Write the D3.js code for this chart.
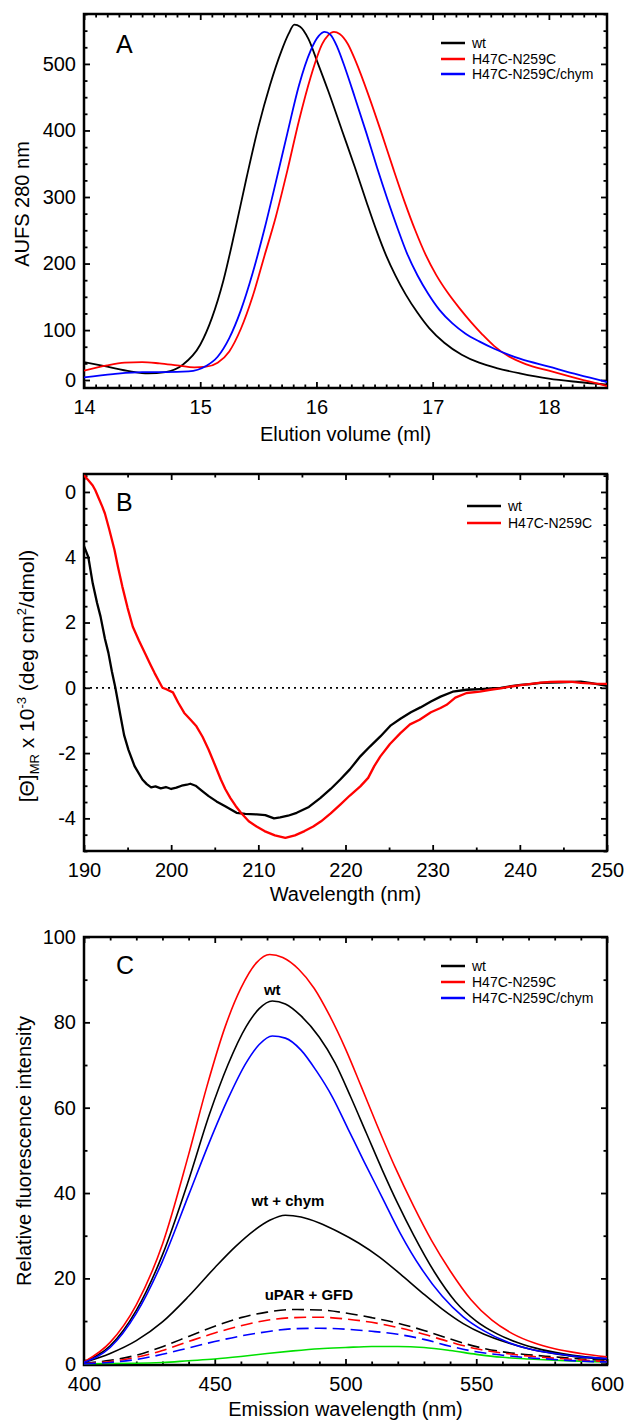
<!DOCTYPE html>
<html><head><meta charset="utf-8">
<script src="https://cdn.jsdelivr.net/npm/d3@7"></script>
<style>
body{margin:0;background:#fff}
svg{display:block}
text{font-family:"Liberation Sans",Arial,Helvetica,sans-serif;fill:#000}
</style>
</head><body>
<svg id="chart" width="625" height="1420"></svg>
<script>
// ---------------- Panel A data (elution volume ml, AUFS 280 nm) ----------------
const seriesA = ["wt", "H47C-N259C", "H47C-N259C/chym"];
const colorsA = ["#000000", "#ff0000", "#0000ff"];
const aWt = [[14.0,52],[14.2,45],[14.4,38],[14.55,35],[14.7,37],[14.85,48],[15.0,78],[15.1,118],[15.2,175],[15.3,250],[15.4,330],[15.5,405],[15.6,468],[15.7,520],[15.76,545],[15.81,559],[15.86,556],[15.93,538],[16.01,502],[16.1,460],[16.22,400],[16.33,345],[16.43,293],[16.52,248],[16.6,212],[16.68,182],[16.77,153],[16.87,126],[16.97,103],[17.1,81],[17.25,63],[17.4,51],[17.55,43],[17.75,35],[18.0,27],[18.25,22],[18.5,18]];
const aMut = [[14.0,39],[14.2,47],[14.35,51],[14.5,52],[14.65,50],[14.8,47],[14.95,44],[15.05,45],[15.15,51],[15.25,68],[15.35,102],[15.45,150],[15.55,210],[15.65,270],[15.75,340],[15.85,415],[15.95,480],[16.05,530],[16.1,543],[16.15,548],[16.2,545],[16.27,530],[16.34,503],[16.45,452],[16.56,396],[16.66,343],[16.76,292],[16.85,250],[16.94,213],[17.03,183],[17.13,156],[17.23,133],[17.33,112],[17.43,93],[17.53,76],[17.65,61],[17.8,49],[18.0,39],[18.25,27],[18.5,16]];
const aChym = [[14.0,29],[14.25,34],[14.5,37],[14.7,37],[14.9,38],[15.05,46],[15.15,60],[15.25,88],[15.35,130],[15.45,185],[15.55,250],[15.65,322],[15.75,396],[15.85,468],[15.95,520],[16.02,542],[16.07,548],[16.12,544],[16.18,525],[16.25,492],[16.33,450],[16.43,396],[16.52,345],[16.61,297],[16.7,252],[16.78,215],[16.87,182],[16.96,155],[17.06,130],[17.17,110],[17.28,95],[17.4,83],[17.53,72],[17.75,57],[18.0,45],[18.25,33],[18.5,22]];
const aXTicks = [14, 15, 16, 17, 18];
const aYTicks = [25, 100, 200, 300, 400, 500];
const aYTickLabels = ["0", "100", "200", "300", "400", "500"];

// ---------------- Panel B data (wavelength nm, [Θ]MR x 10^-3) ----------------
const seriesB = ["wt", "H47C-N259C"];
const colorsB = ["#000000", "#ff0000"];
const bWt = [[190,4.34],[190.5,4.0],[191.0,3.2],[191.5,2.6],[191.9,2.18],[192.4,1.5],[192.8,1.07],[193.2,0.5],[193.6,0],[194.2,-0.88],[194.6,-1.45],[195.1,-1.9],[195.8,-2.4],[196.7,-2.81],[197.2,-2.95],[197.7,-3.05],[198.2,-3.02],[198.8,-3.08],[199.4,-3.04],[200.0,-3.1],[200.6,-3.06],[201.2,-3.0],[201.8,-2.97],[202.2,-2.94],[202.8,-3.0],[203.5,-3.15],[204.3,-3.32],[205.2,-3.48],[206.2,-3.63],[207.0,-3.75],[207.5,-3.83],[208.5,-3.86],[209.8,-3.88],[210.8,-3.9],[211.8,-4.0],[212.5,-3.97],[213.4,-3.92],[214.4,-3.83],[215.8,-3.65],[217.1,-3.38],[218.3,-3.1],[219.4,-2.81],[220.5,-2.5],[221.7,-2.1],[222.8,-1.8],[224.0,-1.49],[225.2,-1.15],[226.3,-0.95],[227.5,-0.75],[228.6,-0.6],[229.8,-0.42],[230.9,-0.27],[232.3,-0.12],[233.9,-0.06],[235.5,-0.04],[236.6,-0.02],[237.8,0.0],[239,0.05],[240.1,0.09],[241.2,0.11],[242.4,0.15],[243.5,0.16],[244.7,0.17],[246,0.18],[247,0.19],[248.2,0.14],[249.2,0.1],[250,0.06]];
const bMut = [[190,6.51],[190.5,6.36],[191.0,6.2],[191.3,6.05],[191.7,5.8],[192.1,5.55],[192.4,5.34],[192.9,4.85],[193.5,4.22],[193.9,3.7],[194.4,3.1],[195.0,2.45],[195.6,1.87],[196.3,1.45],[197.0,1.06],[197.6,0.72],[198.1,0.45],[198.6,0.2],[199.0,0.0],[199.5,-0.05],[200.2,-0.14],[200.8,-0.45],[201.5,-0.77],[202.2,-0.97],[202.9,-1.18],[203.6,-1.5],[204.3,-1.9],[205.0,-2.35],[205.7,-2.81],[206.2,-3.1],[206.8,-3.38],[207.4,-3.62],[208.0,-3.83],[208.9,-4.09],[209.8,-4.25],[210.7,-4.39],[211.9,-4.52],[213.1,-4.6],[214.2,-4.52],[215.3,-4.39],[216.3,-4.25],[217.2,-4.09],[218.3,-3.85],[219.4,-3.58],[220.5,-3.3],[221.7,-3.02],[222.6,-2.76],[223.3,-2.4],[224.0,-2.1],[225.1,-1.72],[226.3,-1.39],[227.4,-1.12],[228.5,-0.98],[229.8,-0.75],[230.9,-0.62],[231.6,-0.52],[232.6,-0.3],[233.9,-0.16],[235.4,-0.12],[236.6,-0.06],[237.8,-0.02],[239,0.04],[240.1,0.08],[241.3,0.12],[242.4,0.16],[243.5,0.18],[244.7,0.19],[246,0.18],[247,0.15],[248.5,0.13],[250,0.12]];
const bXTicks = [190, 200, 210, 220, 230, 240, 250];
const bYTicks = [-4, -2, 0, 2, 4, 6];
const bYTickLabels = ["-4", "-2", "0", "2", "4", "0"];

// ---------------- Panel C data (emission wavelength nm, relative fluorescence) ----------------
const seriesC = ["wt", "H47C-N259C", "H47C-N259C/chym"];
const colorsC = ["#000000", "#ff0000", "#0000ff"];
const cWt = [[400,0.5],[410,4.2],[420,12.5],[430,25.5],[440,43],[448,58.5],[455,70],[462,79],[467,83.2],[472,85],[477,84.3],[483,81.5],[490,76.5],[496,70.5],[502,62.5],[508,54],[514,45.5],[520,37.5],[526,30.2],[534,21.5],[542,14.6],[550,10],[558,7.0],[566,4.9],[575,3.3],[587,2.0],[600,1.2]];
const cMut = [[400,0.4],[410,5.0],[420,13.8],[430,28],[440,49],[447,65],[454,79],[460,88],[466,94],[471,95.9],[476,95.2],[482,92.5],[488,88],[494,81.5],[500,73.8],[506,65],[512,56],[519,46],[526,37],[533,28.8],[540,21.8],[548,15],[556,10.2],[564,7],[572,4.9],[580,3.5],[590,2.4],[600,1.6]];
const cChym = [[400,0.3],[410,3.8],[420,11.8],[430,24],[440,39.5],[448,52],[455,62],[462,70.5],[467,74.8],[472,76.8],[477,76.3],[483,73.5],[489,68.5],[495,62.5],[501,55],[507,47.5],[514,39],[521,30.5],[529,22.3],[537,15.8],[545,11],[553,7.7],[561,5.3],[570,3.5],[580,2.4],[590,1.6],[600,1.2]];
const cWtChym = [[400,0.3],[410,2.4],[420,5.4],[430,9.8],[440,15.8],[450,22.5],[458,27.5],[465,31.2],[471,33.6],[477,34.8],[483,34.4],[490,33.0],[497,31.0],[505,28.3],[513,25.0],[521,21.0],[529,16.8],[537,12.8],[545,9.4],[553,6.9],[562,4.9],[572,3.2],[585,1.9],[600,1.0]];
const cDashWt = [[400,0.1],[410,0.8],[420,2.0],[430,4.0],[440,6.4],[450,8.8],[460,10.8],[470,12.1],[480,12.7],[490,12.6],[500,11.9],[510,10.8],[520,9.5],[530,7.8],[540,5.8],[550,4.0],[560,2.8],[570,2.1],[580,1.6],[590,1.1],[600,0.8]];
const cDashMut = [[400,0.05],[410,0.5],[420,1.5],[430,3.1],[440,5.2],[450,7.2],[460,8.9],[470,10.2],[480,10.8],[490,10.9],[500,10.5],[510,9.7],[520,8.5],[530,6.9],[540,5.1],[550,3.5],[560,2.5],[570,1.8],[580,1.3],[590,0.9],[600,0.5]];
const cDashChym = [[400,0],[410,0.3],[420,1.0],[430,2.2],[440,3.7],[450,5.2],[460,6.5],[470,7.5],[480,8.2],[490,8.3],[500,8.1],[510,7.6],[520,6.9],[530,5.7],[540,4.1],[550,2.8],[560,2.0],[570,1.4],[580,1.0],[590,0.6],[600,0.4]];
const cGfd = [[400,0],[420,0.1],[430,0.3],[440,0.7],[450,1.1],[460,1.7],[470,2.4],[480,3.0],[490,3.5],[500,3.8],[510,4.05],[520,4.05],[530,3.8],[540,3.1],[550,2.2],[560,1.5],[570,1.1],[580,0.8],[590,0.6],[600,0.4]];
const cXTicks = [400, 450, 500, 550, 600];
const cYTicks = [0, 20, 40, 60, 80, 100];
const cAnnotations = [["wt", 472, 86.5], ["wt + chym", 478, 37], ["uPAR + GFD", 486, 15]];

// ---------------- drawing ----------------
const svg = d3.select("#chart");
const L = 84, R = 607;
const FONT = 20;

function frame(g, x, y, majX, minX, majY, minY, fmtX, fmtY, id) {
  const [y0, y1] = y.range();
  const addAxis = (gen, tr) => {
    const a = g.append("g").attr("transform", tr).call(gen);
    a.select(".domain").remove();
    a.selectAll(".tick line").attr("stroke", "#000").attr("stroke-width", 1.8);
    a.selectAll("text").style("font-size", FONT + "px").attr("fill", "#000");
    return a;
  };
  addAxis(d3.axisBottom(x).tickValues(majX).tickSizeInner(-6).tickSizeOuter(0).tickPadding(12).tickFormat(fmtX), `translate(0,${y0})`);
  addAxis(d3.axisBottom(x).tickValues(minX).tickSizeInner(-3.5).tickSizeOuter(0).tickFormat(""), `translate(0,${y0})`);
  addAxis(d3.axisTop(x).tickValues(majX).tickSizeInner(-6).tickSizeOuter(0).tickFormat(""), `translate(0,${y1})`);
  addAxis(d3.axisTop(x).tickValues(minX).tickSizeInner(-3.5).tickSizeOuter(0).tickFormat(""), `translate(0,${y1})`);
  addAxis(d3.axisLeft(y).tickValues(majY).tickSizeInner(-6).tickSizeOuter(0).tickPadding(8).tickFormat(fmtY), `translate(${L},0)`);
  addAxis(d3.axisLeft(y).tickValues(minY).tickSizeInner(-3.5).tickSizeOuter(0).tickFormat(""), `translate(${L},0)`);
  addAxis(d3.axisRight(y).tickValues(majY).tickSizeInner(-6).tickSizeOuter(0).tickFormat(""), `translate(${R},0)`);
  addAxis(d3.axisRight(y).tickValues(minY).tickSizeInner(-3.5).tickSizeOuter(0).tickFormat(""), `translate(${R},0)`);
  g.append("rect").attr("x", L).attr("y", y1).attr("width", R - L).attr("height", y0 - y1)
    .attr("fill", "none").attr("stroke", "#000").attr("stroke-width", 2.5);
  g.append("clipPath").attr("id", id).append("rect").attr("x", L).attr("y", y1).attr("width", R - L).attr("height", y0 - y1);
}

function drawLine(g, data, x, y, color, w, dash, curve, clip) {
  g.append("path").datum(data)
    .attr("clip-path", `url(#${clip})`)
    .attr("fill", "none").attr("stroke", color).attr("stroke-width", w)
    .attr("stroke-dasharray", dash || null)
    .attr("stroke-linejoin", "round")
    .attr("d", d3.line().x(d => x(d[0])).y(d => y(d[1])).curve(curve));
}

function legend(g, names, colors, x0, x1, ys, w) {
  names.forEach((n, i) => {
    g.append("line").attr("x1", x0).attr("x2", x1).attr("y1", ys[i]).attr("y2", ys[i])
      .attr("stroke", colors[i]).attr("stroke-width", w);
    g.append("text").attr("x", x1 + 7).attr("y", ys[i] + 5).style("font-size", "14px").text(n);
  });
}

// ---- Panel A ----
{
  const g = svg.append("g");
  const x = d3.scaleLinear().domain([14, 18.5]).range([L, R]);
  const y = d3.scaleLinear().domain([13, 575]).range([388, 14]);
  frame(g, x, y, aXTicks, d3.range(141, 185, 1).map(v => v / 10).filter(v => v % 1 !== 0),
    aYTicks, d3.range(25, 576, 25).filter(v => !aYTicks.includes(v)),
    d3.format("d"), (d, i) => aYTickLabels[i], "clipA");
  [aWt, aMut, aChym].forEach((s, i) => drawLine(g, s, x, y, colorsA[i], 1.8, null, d3.curveMonotoneX, "clipA"));
  legend(g, seriesA, colorsA, 441, 465, [43, 59, 74], 2.5);
  g.append("text").attr("x", 116).attr("y", 53).style("font-size", "25px").text("A");
  g.append("text").attr("x", (L + R) / 2).attr("y", 441).attr("text-anchor", "middle").style("font-size", FONT + "px").text("Elution volume (ml)");
  g.append("text").attr("transform", "translate(29,204) rotate(-90)").attr("text-anchor", "middle").style("font-size", FONT + "px").text("AUFS 280 nm");
}

// ---- Panel B ----
{
  const g = svg.append("g");
  const x = d3.scaleLinear().domain([190, 250]).range([L, R]);
  const y = d3.scaleLinear().domain([-5, 6.55]).range([851, 474]);
  frame(g, x, y, bXTicks, d3.range(195, 250, 10),
    bYTicks, d3.range(-5, 6.51, 0.5).filter(v => !bYTicks.includes(v)),
    d3.format("d"), (d, i) => bYTickLabels[i], "clipB");
  g.append("line").attr("x1", L).attr("x2", R).attr("y1", y(0)).attr("y2", y(0))
    .attr("stroke", "#000").attr("stroke-width", 1.8).attr("stroke-dasharray", "2,4");
  [bWt, bMut].forEach((s, i) => drawLine(g, s, x, y, colorsB[i], 2.3, null, d3.curveLinear, "clipB"));
  legend(g, seriesB, colorsB, 467, 501, [506, 523], 2.5);
  g.append("text").attr("x", 116).attr("y", 511).style("font-size", "25px").text("B");
  g.append("text").attr("x", (L + R) / 2).attr("y", 901).attr("text-anchor", "middle").style("font-size", FONT + "px").text("Wavelength (nm)");
  const t = g.append("text").attr("transform", "translate(34,676) rotate(-90)").attr("text-anchor", "middle").style("font-size", "21px");
  t.append("tspan").text("[Θ]");
  t.append("tspan").attr("dy", 5).style("font-size", "13px").text("MR");
  t.append("tspan").attr("dy", -5).text("  x 10");
  t.append("tspan").attr("dy", -8).style("font-size", "13px").text("-3");
  t.append("tspan").attr("dy", 8).text(" (deg cm");
  t.append("tspan").attr("dy", -8).style("font-size", "13px").text("2");
  t.append("tspan").attr("dy", 8).text("/dmol)");
}

// ---- Panel C ----
{
  const g = svg.append("g");
  const x = d3.scaleLinear().domain([400, 600]).range([L, R]);
  const y = d3.scaleLinear().domain([-0.3, 100]).range([1365, 937]);
  frame(g, x, y, cXTicks, d3.range(410, 600, 10).filter(v => v % 50 !== 0),
    cYTicks, d3.range(10, 100, 20),
    d3.format("d"), d3.format("d"), "clipC");
  drawLine(g, cGfd, x, y, "#00e000", 1.6, null, d3.curveMonotoneX, "clipC");
  [cDashWt, cDashMut, cDashChym].forEach((s, i) => drawLine(g, s, x, y, colorsC[i], 1.6, "12,6", d3.curveMonotoneX, "clipC"));
  drawLine(g, cWtChym, x, y, "#000", 1.6, null, d3.curveMonotoneX, "clipC");
  [cWt, cMut, cChym].forEach((s, i) => drawLine(g, s, x, y, colorsC[i], 1.6, null, d3.curveMonotoneX, "clipC"));
  legend(g, seriesC, colorsC, 441, 465, [966, 982, 998], 2.5);
  g.append("text").attr("x", 116).attr("y", 974).style("font-size", "25px").text("C");
  cAnnotations.forEach(a => {
    g.append("text").attr("x", x(a[1])).attr("y", y(a[2])).attr("text-anchor", "middle")
      .style("font-size", "15px").style("font-weight", "bold").text(a[0]);
  });
  g.append("text").attr("x", (L + R) / 2).attr("y", 1416).attr("text-anchor", "middle").style("font-size", FONT + "px").text("Emission wavelength (nm)");
  g.append("text").attr("transform", "translate(31,1151) rotate(-90)").attr("text-anchor", "middle").style("font-size", FONT + "px").text("Relative fluorescence intensity");
}
</script>
</body></html>
